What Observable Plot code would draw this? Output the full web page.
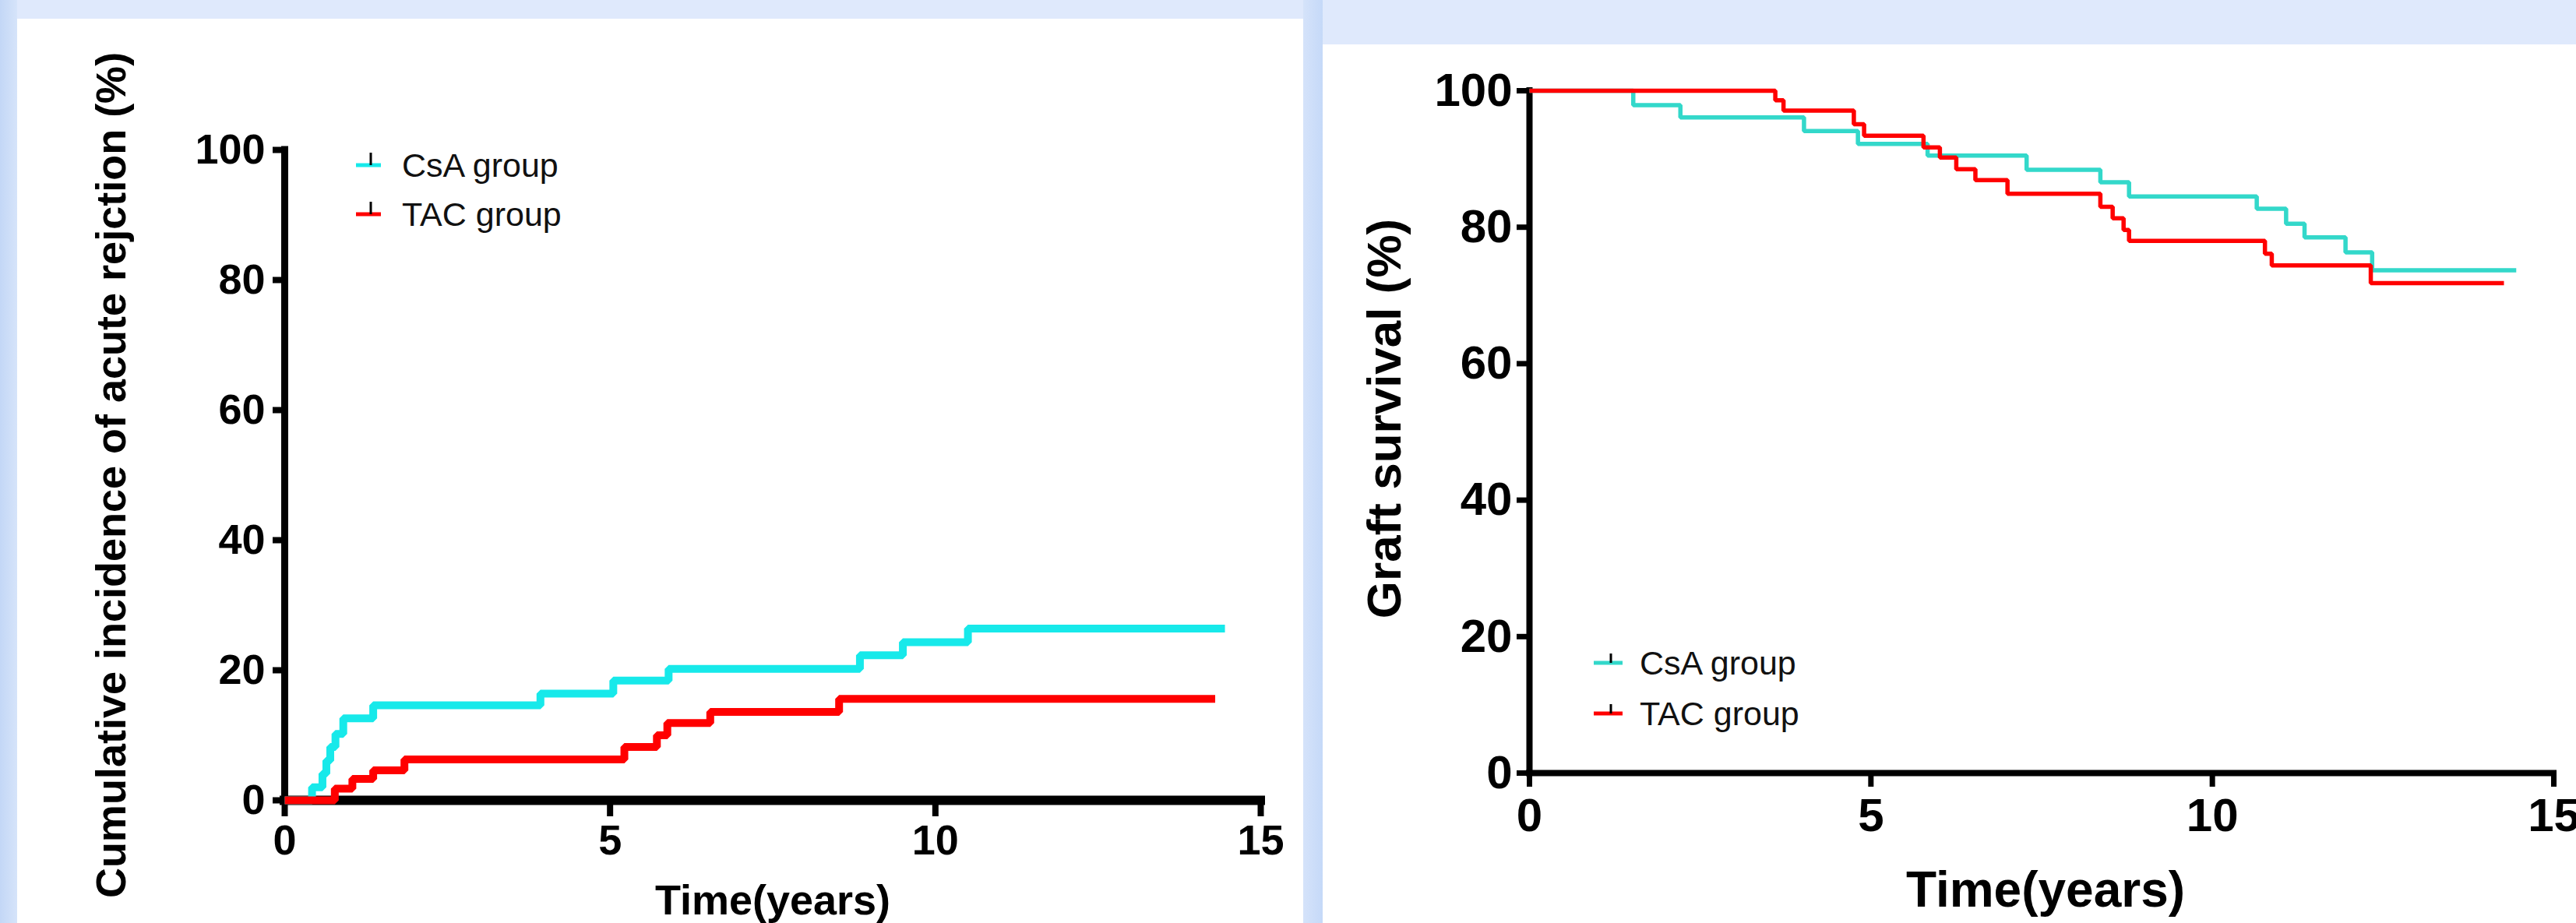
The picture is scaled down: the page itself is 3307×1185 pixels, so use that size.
<!DOCTYPE html>
<html>
<head>
<meta charset="utf-8">
<script src="https://cdn.jsdelivr.net/npm/d3@7"></script>
<script src="https://cdn.jsdelivr.net/npm/@observablehq/plot@0.6"></script>
<style>
html, body { margin: 0; padding: 0; }
body {
  width: 3307px; height: 1185px; overflow: hidden; position: relative;
  background: #dfe9fc;
  font-family: "Liberation Sans", Arial, sans-serif;
}
.strip { position: absolute; }
.panel { position: absolute; background: #ffffff; }
.chart { position: absolute; }
.legend { position: absolute; }
.legend .item { position: absolute; display: flex; align-items: center; white-space: nowrap; color: #111; }
.legend svg { display: block; }
</style>
</head>
<body>
<div class="strip" style="left:0;top:0;width:22px;height:1185px;background:linear-gradient(to right,#c3d7f6,#d6e4fa);"></div>
<div class="strip" style="left:1673px;top:0;width:25px;height:1185px;background:linear-gradient(to right,#d5e3fa,#c5d9f8);"></div>
<div class="panel" style="left:22px;top:24px;width:1651px;height:1161px;"></div>
<div class="panel" style="left:1698px;top:57px;width:1609px;height:1128px;"></div>
<div id="left" class="chart" style="left:22px;top:24px;"></div>
<div id="right" class="chart" style="left:1698px;top:57px;"></div>
<div id="legLeft" class="legend"></div>
<div id="legRight" class="legend"></div>
<script>
// ---------- data ----------
const groups = ["CsA group", "TAC group"];
const xTicks = [0, 5, 10, 15];
const yTicks = [0, 20, 40, 60, 80, 100];
const xTitle = "Time(years)";
const leftYTitle = "Cumulative incidence of acute rejction (%)";
const rightYTitle = "Graft survival (%)";

// Left chart: cumulative incidence of acute rejection (%)
const csaRejT = [0, 0.42, 0.58, 0.64, 0.70, 0.78, 0.90, 1.36, 3.93, 5.05, 5.90, 8.84, 9.50, 10.50, 14.45];
const csaRejV = [0, 2.0, 4.1, 6.1, 8.2, 10.2, 12.6, 14.6, 16.4, 18.4, 20.2, 22.3, 24.3, 26.4, 26.4];
const tacRejT = [0, 0.77, 1.04, 1.36, 1.84, 5.22, 5.72, 5.88, 6.54, 8.52, 14.30];
const tacRejV = [0, 1.8, 3.3, 4.6, 6.3, 8.2, 10.0, 11.9, 13.6, 15.6, 15.6];

// Right chart: graft survival (%)
const csaSurvT = [0, 1.52, 2.21, 4.02, 4.81, 5.83, 7.28, 8.36, 8.78, 10.65, 11.08, 11.35, 11.95, 12.34, 14.45];
const csaSurvV = [100, 97.9, 96.1, 94.1, 92.2, 90.5, 88.4, 86.6, 84.5, 82.7, 80.5, 78.5, 76.3, 73.7, 73.7];
const tacSurvT = [0, 3.60, 3.72, 4.75, 4.90, 5.77, 6.01, 6.25, 6.53, 7.00, 8.36, 8.54, 8.70, 8.78, 10.77, 10.87, 12.32, 14.27];
const tacSurvV = [100, 98.6, 97.1, 95.1, 93.4, 91.7, 90.2, 88.5, 86.9, 84.9, 83.0, 81.3, 79.6, 78.0, 76.1, 74.4, 71.8, 71.8];

const leftColors = ["#17e9ea", "#ff0000"];
const rightColors = ["#33d8ca", "#ff0000"];

// ---------- helpers ----------
const rows = (T, V, g) => T.map((t, i) => ({t, v: V[i], g}));
const rejData = [...rows(csaRejT, csaRejV, groups[0]), ...rows(tacRejT, tacRejV, groups[1])];
const survData = [...rows(csaSurvT, csaSurvV, groups[0]), ...rows(tacSurvT, tacSurvV, groups[1])];
const FONT = "'Liberation Sans', Arial, sans-serif";

function makeChart(cfg) {
  return Plot.plot({
    width: cfg.width, height: cfg.height,
    marginLeft: cfg.ml, marginRight: cfg.mr, marginTop: cfg.mt, marginBottom: cfg.mb,
    x: {domain: [0, 15]},
    y: {domain: [0, 100]},
    color: {domain: groups, range: cfg.colors},
    style: {background: "transparent", fontFamily: FONT, color: "#000", overflow: "visible"},
    marks: [
      Plot.ruleX([0], {stroke: "#000", strokeWidth: cfg.yAxisW, strokeLinecap: "square"}),
      Plot.ruleY([0], {stroke: "#000", strokeWidth: cfg.xAxisW, strokeLinecap: "square"}),
      Plot.axisY({ticks: yTicks, tickSize: cfg.yTickSize, tickPadding: cfg.yTickPad, strokeWidth: cfg.tickW,
        fontSize: cfg.tickFont, fontWeight: "bold", fill: "#000", label: null, tickFormat: d => String(d)}),
      Plot.axisX({ticks: xTicks, tickSize: cfg.xTickSize, tickPadding: cfg.xTickPad, strokeWidth: cfg.tickW,
        fontSize: cfg.tickFont, fontWeight: "bold", fill: "#000", label: null, tickFormat: d => String(d)}),
      Plot.line(cfg.data, {x: "t", y: "v", z: "g", stroke: "g", curve: "step-after",
        strokeWidth: cfg.lineW, strokeLinejoin: "miter", strokeLinecap: "butt"}),
      Plot.text([xTitle], {text: d => d, frameAnchor: "bottom", textAnchor: "middle", lineAnchor: "middle",
        dx: cfg.xTitleDx, dy: cfg.xTitleDy, fontSize: cfg.xTitleFont, fontWeight: "bold", fill: "#000"}),
      Plot.text([cfg.yTitle], {text: d => d, frameAnchor: "left", textAnchor: "middle", lineAnchor: "middle",
        rotate: -90, dx: cfg.yTitleDx, dy: cfg.yTitleDy,
        fontSize: cfg.yTitleFont, fontWeight: "bold", fill: "#000"})
    ]
  });
}

document.getElementById("left").appendChild(makeChart({
  width: 1655, height: 1161, ml: 343, mr: 59, mt: 168, mb: 158,
  colors: leftColors, data: rejData,
  yAxisW: 9, xAxisW: 12, tickW: 8,
  yTickSize: 15, yTickPad: 10, xTickSize: 21, xTickPad: 10,
  tickFont: 54, lineW: 10,
  xTitleDx: 0, xTitleDy: 129, xTitleFont: 54,
  yTitle: leftYTitle, yTitleDx: -222, yTitleDy: 0, yTitleFont: 54
}));

document.getElementById("right").appendChild(makeChart({
  width: 1609, height: 1128, ml: 265, mr: 29, mt: 59, mb: 193,
  colors: rightColors, data: survData,
  yAxisW: 8, xAxisW: 8, tickW: 7,
  yTickSize: 16, yTickPad: 6, xTickSize: 18, xTickPad: 14,
  tickFont: 60, lineW: 5.5,
  xTitleDx: 5, xTitleDy: 151, xTitleFont: 64,
  yTitle: rightYTitle, yTitleDx: -185, yTitleDy: -17, yTitleFont: 62
}));

// ---------- legends (HTML, outside the SVG) ----------
function legend(id, cfg) {
  const root = document.getElementById(id);
  groups.forEach((g, i) => {
    const item = document.createElement("div");
    item.className = "item";
    item.style.left = cfg.x + "px";
    item.style.top = (cfg.y + i * cfg.gap - cfg.h / 2) + "px";
    item.style.height = cfg.h + "px";
    item.style.fontSize = cfg.font + "px";
    const w = cfg.swW, h = cfg.h;
    item.innerHTML =
      `<svg width="${w}" height="${h}">` +
      `<line x1="0" x2="${w}" y1="${h / 2}" y2="${h / 2}" stroke="${cfg.colors[i]}" stroke-width="${cfg.swH}"/>` +
      `<line x1="${cfg.tickX}" x2="${cfg.tickX}" y1="${h / 2 - cfg.tickH}" y2="${h / 2}" stroke="#000" stroke-width="3"/>` +
      `</svg><span style="margin-left:${cfg.textGap}px">${g}</span>`;
    root.appendChild(item);
  });
}
legend("legLeft", {x: 457, y: 212, gap: 63, h: 50, font: 43, swW: 32, swH: 5, tickX: 19, tickH: 16, textGap: 27, colors: leftColors});
legend("legRight", {x: 2046, y: 851, gap: 65, h: 56, font: 43, swW: 37, swH: 5, tickX: 22, tickH: 12, textGap: 22, colors: rightColors});
</script>
</body>
</html>
